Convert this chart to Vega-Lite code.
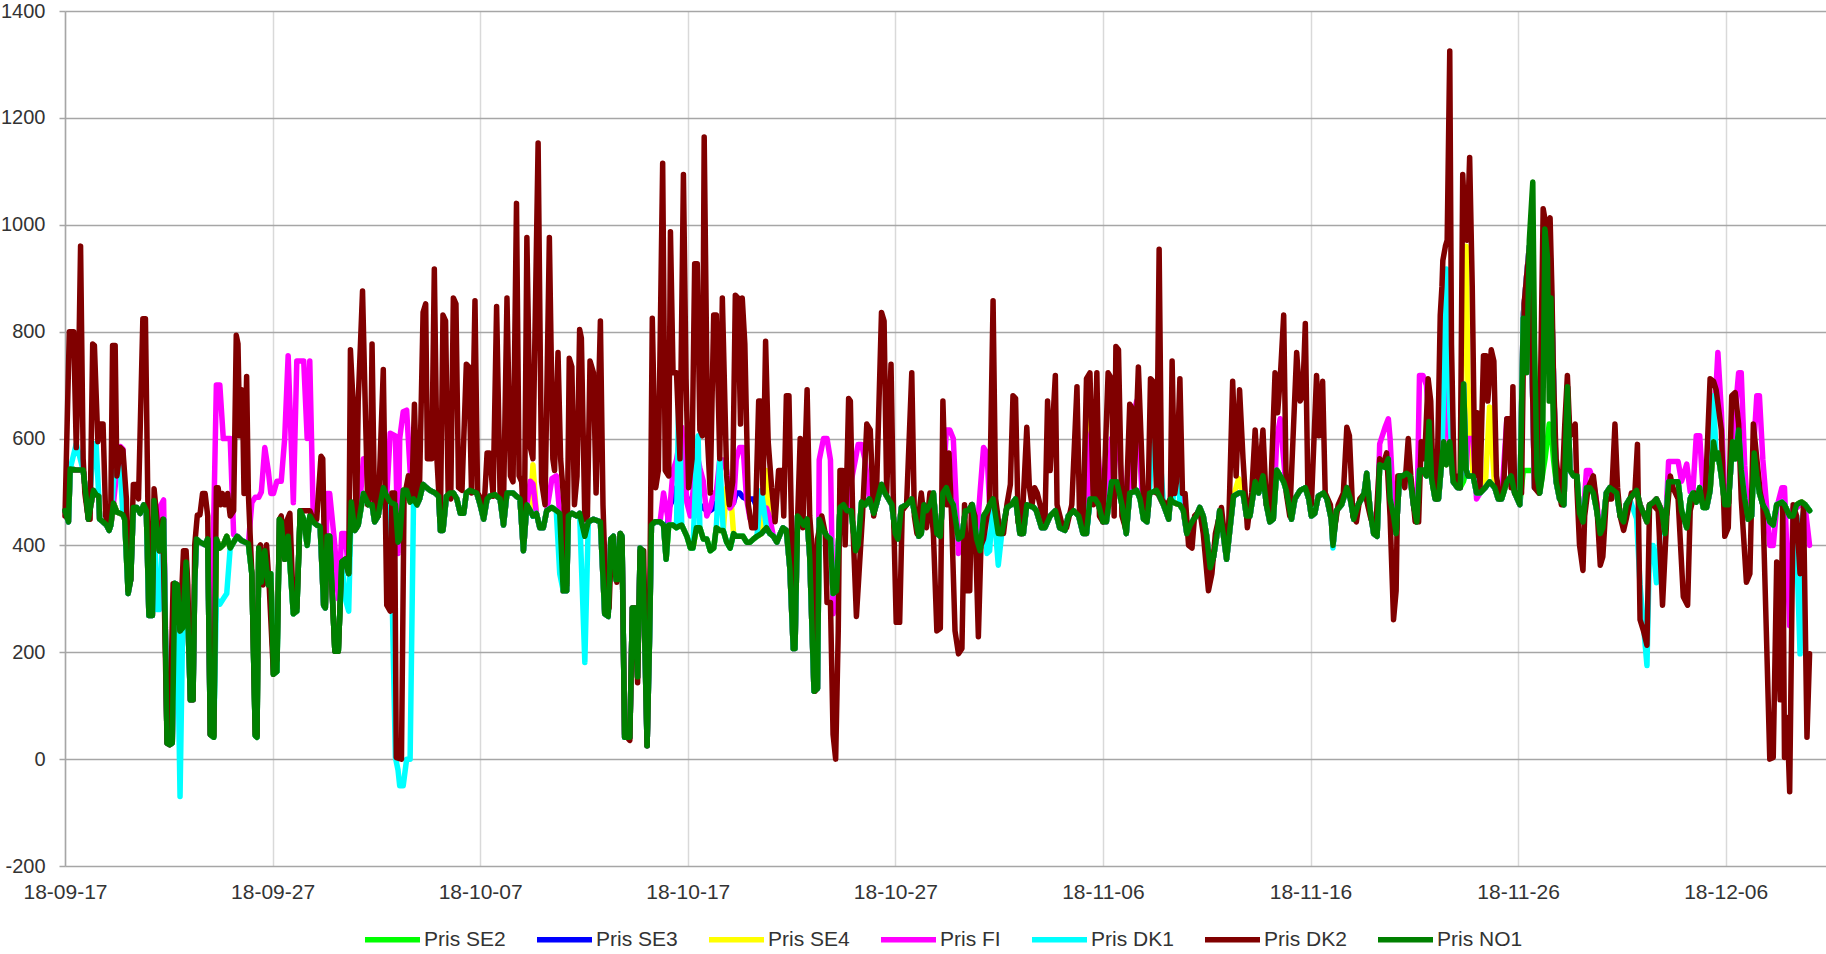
{
"$schema":"https://vega.github.io/schema/vega-lite/v6.json",
"width":1761,"height":855,
"autosize":{"type":"none"},
"padding":{"left":65,"top":11,"right":0,"bottom":88},
"background":"white",
"config":{"font":"Liberation Sans","view":{"stroke":null},"axis":{"labelColor":"#333333","labelFont":"Liberation Sans"},"line":{"strokeWidth":5.5,"strokeJoin":"round","strokeCap":"round"}},
"datasets":{
"nordic":[
{"h":0,"NO1":465,"SE2":465,"SE3":465,"SE4":465,"FI":465,"DK1":465},
{"h":4,"NO1":444,"SE2":444,"SE3":444,"SE4":444,"FI":444,"DK1":444},
{"h":6,"NO1":543,"SE2":543,"SE3":543,"SE4":543,"FI":543,"DK1":543},
{"h":13,"NO1":541,"SE2":541,"SE3":541,"SE4":541,"FI":541,"DK1":590},
{"h":21,"NO1":541,"SE2":541,"SE3":541,"SE4":541,"FI":541,"DK1":541},
{"h":24,"NO1":497,"SE2":497,"SE3":497,"SE4":497,"FI":497,"DK1":497},
{"h":27,"NO1":449,"SE2":449,"SE3":449,"SE4":449,"FI":449,"DK1":449},
{"h":33,"NO1":503,"SE2":503,"SE3":503,"SE4":503,"FI":503,"DK1":590},
{"h":36,"NO1":495,"SE2":495,"SE3":495,"SE4":495,"FI":495,"DK1":590},
{"h":39,"NO1":492,"SE2":492,"SE3":492,"SE4":492,"FI":492,"DK1":492},
{"h":40,"NO1":449,"SE2":449,"SE3":449,"SE4":449,"FI":449,"DK1":449},
{"h":44,"NO1":444,"SE2":444,"SE3":444,"SE4":444,"FI":444,"DK1":444},
{"h":48,"NO1":438,"SE2":438,"SE3":438,"SE4":438,"FI":438,"DK1":438},
{"h":51,"NO1":428,"SE2":428,"SE3":428,"SE4":428,"FI":428,"DK1":428},
{"h":53,"NO1":438,"SE2":438,"SE3":438,"SE4":438,"FI":438,"DK1":438},
{"h":56,"NO1":479,"SE2":479,"SE3":479,"SE4":479,"FI":479,"DK1":520},
{"h":60,"NO1":462,"SE2":462,"SE3":462,"SE4":462,"FI":540,"DK1":560},
{"h":64,"NO1":460,"SE2":460,"SE3":460,"SE4":460,"FI":585,"DK1":540},
{"h":67,"NO1":457,"SE2":457,"SE3":457,"SE4":457,"FI":580,"DK1":457},
{"h":69,"NO1":449,"SE2":449,"SE3":449,"SE4":449,"FI":470,"DK1":449},
{"h":73,"NO1":310,"SE2":310,"SE3":310,"SE4":310,"FI":310,"DK1":310},
{"h":76,"NO1":336,"SE2":336,"SE3":336,"SE4":336,"FI":336,"DK1":336},
{"h":79,"NO1":471,"SE2":471,"SE3":471,"SE4":471,"FI":471,"DK1":471},
{"h":83,"NO1":471,"SE2":471,"SE3":471,"SE4":471,"FI":471,"DK1":471},
{"h":87,"NO1":460,"SE2":460,"SE3":460,"SE4":460,"FI":460,"DK1":460},
{"h":91,"NO1":476,"SE2":476,"SE3":476,"SE4":476,"FI":476,"DK1":476},
{"h":94,"NO1":465,"SE2":465,"SE3":465,"SE4":465,"FI":465,"DK1":465},
{"h":97,"NO1":269,"SE2":269,"SE3":269,"SE4":269,"FI":269,"DK1":269},
{"h":101,"NO1":269,"SE2":269,"SE3":269,"SE4":269,"FI":269,"DK1":269},
{"h":103,"NO1":484,"SE2":484,"SE3":484,"SE4":484,"FI":484,"DK1":484},
{"h":106,"NO1":433,"SE2":433,"SE3":433,"SE4":433,"FI":433,"DK1":280},
{"h":109,"NO1":390,"SE2":390,"SE3":390,"SE4":390,"FI":470,"DK1":280},
{"h":114,"NO1":449,"SE2":449,"SE3":449,"SE4":449,"FI":485,"DK1":449},
{"h":118,"NO1":30,"SE2":30,"SE3":30,"SE4":30,"FI":30,"DK1":30},
{"h":121,"NO1":27,"SE2":27,"SE3":27,"SE4":27,"FI":27,"DK1":27},
{"h":124,"NO1":30,"SE2":30,"SE3":30,"SE4":30,"FI":30,"DK1":30},
{"h":127,"NO1":329,"SE2":329,"SE3":329,"SE4":329,"FI":329,"DK1":329},
{"h":130,"NO1":326,"SE2":326,"SE3":326,"SE4":326,"FI":326,"DK1":250},
{"h":133,"NO1":240,"SE2":240,"SE3":240,"SE4":240,"FI":240,"DK1":-70},
{"h":136,"NO1":245,"SE2":245,"SE3":245,"SE4":245,"FI":245,"DK1":245},
{"h":140,"NO1":369,"SE2":369,"SE3":369,"SE4":369,"FI":369,"DK1":369},
{"h":145,"NO1":111,"SE2":111,"SE3":111,"SE4":111,"FI":111,"DK1":111},
{"h":148,"NO1":111,"SE2":111,"SE3":111,"SE4":111,"FI":111,"DK1":111},
{"h":150,"NO1":331,"SE2":331,"SE3":331,"SE4":331,"FI":331,"DK1":331},
{"h":152,"NO1":412,"SE2":412,"SE3":412,"SE4":412,"FI":412,"DK1":412},
{"h":156,"NO1":406,"SE2":406,"SE3":406,"SE4":406,"FI":406,"DK1":406},
{"h":162,"NO1":401,"SE2":401,"SE3":401,"SE4":401,"FI":401,"DK1":401},
{"h":165,"NO1":412,"SE2":412,"SE3":412,"SE4":412,"FI":412,"DK1":412},
{"h":168,"NO1":46,"SE2":46,"SE3":46,"SE4":46,"FI":46,"DK1":46},
{"h":172,"NO1":41,"SE2":41,"SE3":41,"SE4":41,"FI":450,"DK1":41},
{"h":175,"NO1":412,"SE2":412,"SE3":412,"SE4":412,"FI":700,"DK1":300},
{"h":179,"NO1":395,"SE2":395,"SE3":395,"SE4":395,"FI":700,"DK1":290},
{"h":183,"NO1":401,"SE2":401,"SE3":401,"SE4":401,"FI":600,"DK1":300},
{"h":187,"NO1":417,"SE2":417,"SE3":417,"SE4":417,"FI":600,"DK1":310},
{"h":191,"NO1":395,"SE2":395,"SE3":395,"SE4":395,"FI":600,"DK1":395},
{"h":195,"NO1":406,"SE2":406,"SE3":406,"SE4":406,"FI":420,"DK1":406},
{"h":199,"NO1":417,"SE2":417,"SE3":417,"SE4":417,"FI":417,"DK1":417},
{"h":204,"NO1":409,"SE2":409,"SE3":409,"SE4":409,"FI":409,"DK1":409},
{"h":212,"NO1":403,"SE2":403,"SE3":403,"SE4":403,"FI":403,"DK1":403},
{"h":216,"NO1":347,"SE2":347,"SE3":347,"SE4":347,"FI":480,"DK1":347},
{"h":220,"NO1":44,"SE2":44,"SE3":44,"SE4":44,"FI":490,"DK1":44},
{"h":222,"NO1":41,"SE2":41,"SE3":41,"SE4":41,"FI":490,"DK1":41},
{"h":224,"NO1":395,"SE2":395,"SE3":395,"SE4":395,"FI":490,"DK1":395},
{"h":227,"NO1":331,"SE2":331,"SE3":331,"SE4":331,"FI":500,"DK1":331},
{"h":231,"NO1":390,"SE2":390,"SE3":390,"SE4":390,"FI":583,"DK1":390},
{"h":235,"NO1":326,"SE2":326,"SE3":326,"SE4":326,"FI":540,"DK1":326},
{"h":238,"NO1":347,"SE2":347,"SE3":347,"SE4":347,"FI":497,"DK1":347},
{"h":241,"NO1":159,"SE2":159,"SE3":159,"SE4":159,"FI":497,"DK1":159},
{"h":245,"NO1":164,"SE2":164,"SE3":164,"SE4":164,"FI":520,"DK1":164},
{"h":248,"NO1":449,"SE2":449,"SE3":449,"SE4":449,"FI":520,"DK1":449},
{"h":250,"NO1":444,"SE2":444,"SE3":444,"SE4":444,"FI":520,"DK1":444},
{"h":254,"NO1":374,"SE2":374,"SE3":374,"SE4":374,"FI":600,"DK1":374},
{"h":258,"NO1":417,"SE2":417,"SE3":417,"SE4":417,"FI":755,"DK1":417},
{"h":264,"NO1":272,"SE2":272,"SE3":272,"SE4":272,"FI":480,"DK1":272},
{"h":268,"NO1":277,"SE2":277,"SE3":277,"SE4":277,"FI":745,"DK1":277},
{"h":272,"NO1":465,"SE2":465,"SE3":465,"SE4":465,"FI":745,"DK1":465},
{"h":276,"NO1":449,"SE2":449,"SE3":449,"SE4":449,"FI":745,"DK1":449},
{"h":280,"NO1":400,"SE2":400,"SE3":400,"SE4":400,"FI":600,"DK1":400},
{"h":283,"NO1":455,"SE2":455,"SE3":455,"SE4":455,"FI":745,"DK1":455},
{"h":287,"NO1":444,"SE2":444,"SE3":444,"SE4":444,"FI":455,"DK1":444},
{"h":291,"NO1":438,"SE2":438,"SE3":438,"SE4":438,"FI":438,"DK1":438},
{"h":295,"NO1":435,"SE2":435,"SE3":435,"SE4":435,"FI":435,"DK1":435},
{"h":299,"NO1":288,"SE2":288,"SE3":288,"SE4":288,"FI":288,"DK1":288},
{"h":301,"NO1":283,"SE2":283,"SE3":283,"SE4":283,"FI":283,"DK1":283},
{"h":303,"NO1":417,"SE2":417,"SE3":417,"SE4":417,"FI":497,"DK1":417},
{"h":306,"NO1":417,"SE2":417,"SE3":417,"SE4":417,"FI":497,"DK1":417},
{"h":312,"NO1":202,"SE2":202,"SE3":202,"SE4":202,"FI":400,"DK1":202},
{"h":316,"NO1":202,"SE2":202,"SE3":202,"SE4":202,"FI":300,"DK1":202},
{"h":320,"NO1":369,"SE2":369,"SE3":369,"SE4":369,"FI":422,"DK1":369},
{"h":324,"NO1":374,"SE2":374,"SE3":374,"SE4":374,"FI":422,"DK1":300},
{"h":328,"NO1":347,"SE2":347,"SE3":347,"SE4":347,"FI":347,"DK1":277},
{"h":331,"NO1":481,"SE2":481,"SE3":481,"SE4":481,"FI":481,"DK1":481},
{"h":335,"NO1":428,"SE2":428,"SE3":428,"SE4":428,"FI":428,"DK1":428},
{"h":339,"NO1":438,"SE2":438,"SE3":438,"SE4":438,"FI":438,"DK1":438},
{"h":345,"NO1":497,"SE2":497,"SE3":497,"SE4":497,"FI":562,"DK1":497},
{"h":351,"NO1":476,"SE2":476,"SE3":476,"SE4":476,"FI":530,"DK1":476},
{"h":355,"NO1":476,"SE2":476,"SE3":476,"SE4":476,"FI":476,"DK1":476},
{"h":358,"NO1":444,"SE2":444,"SE3":444,"SE4":444,"FI":444,"DK1":444},
{"h":362,"NO1":455,"SE2":455,"SE3":455,"SE4":455,"FI":455,"DK1":455},
{"h":368,"NO1":508,"SE2":508,"SE3":508,"SE4":508,"FI":508,"DK1":508},
{"h":372,"NO1":492,"SE2":492,"SE3":492,"SE4":492,"FI":492,"DK1":492},
{"h":376,"NO1":481,"SE2":481,"SE3":481,"SE4":481,"FI":610,"DK1":481},
{"h":382,"NO1":476,"SE2":476,"SE3":476,"SE4":476,"FI":605,"DK1":3},
{"h":385,"NO1":406,"SE2":406,"SE3":406,"SE4":406,"FI":385,"DK1":-20},
{"h":387,"NO1":412,"SE2":412,"SE3":412,"SE4":412,"FI":600,"DK1":-50},
{"h":391,"NO1":503,"SE2":503,"SE3":503,"SE4":503,"FI":650,"DK1":-50},
{"h":395,"NO1":503,"SE2":503,"SE3":503,"SE4":503,"FI":653,"DK1":0},
{"h":399,"NO1":481,"SE2":481,"SE3":481,"SE4":481,"FI":540,"DK1":0},
{"h":403,"NO1":487,"SE2":487,"SE3":487,"SE4":487,"FI":487,"DK1":487},
{"h":407,"NO1":476,"SE2":476,"SE3":476,"SE4":476,"FI":476,"DK1":476},
{"h":410,"NO1":487,"SE2":487,"SE3":487,"SE4":487,"FI":487,"DK1":487},
{"h":414,"NO1":514,"SE2":514,"SE3":514,"SE4":514,"FI":514,"DK1":514},
{"h":418,"NO1":508,"SE2":508,"SE3":508,"SE4":508,"FI":508,"DK1":508},
{"h":422,"NO1":503,"SE2":503,"SE3":503,"SE4":503,"FI":503,"DK1":503},
{"h":428,"NO1":498,"SE2":498,"SE3":498,"SE4":498,"FI":498,"DK1":498},
{"h":432,"NO1":492,"SE2":492,"SE3":492,"SE4":492,"FI":492,"DK1":492},
{"h":434,"NO1":428,"SE2":428,"SE3":428,"SE4":428,"FI":428,"DK1":428},
{"h":437,"NO1":428,"SE2":428,"SE3":428,"SE4":428,"FI":428,"DK1":428},
{"h":441,"NO1":492,"SE2":492,"SE3":492,"SE4":492,"FI":492,"DK1":492},
{"h":445,"NO1":498,"SE2":498,"SE3":498,"SE4":498,"FI":498,"DK1":498},
{"h":449,"NO1":498,"SE2":498,"SE3":498,"SE4":498,"FI":498,"DK1":498},
{"h":453,"NO1":487,"SE2":487,"SE3":487,"SE4":487,"FI":487,"DK1":487},
{"h":457,"NO1":460,"SE2":460,"SE3":460,"SE4":460,"FI":460,"DK1":460},
{"h":461,"NO1":460,"SE2":460,"SE3":460,"SE4":460,"FI":460,"DK1":460},
{"h":464,"NO1":498,"SE2":498,"SE3":498,"SE4":498,"FI":498,"DK1":498},
{"h":468,"NO1":503,"SE2":503,"SE3":503,"SE4":503,"FI":503,"DK1":503},
{"h":476,"NO1":498,"SE2":498,"SE3":498,"SE4":498,"FI":498,"DK1":498},
{"h":480,"NO1":476,"SE2":476,"SE3":476,"SE4":476,"FI":476,"DK1":476},
{"h":484,"NO1":449,"SE2":449,"SE3":449,"SE4":449,"FI":449,"DK1":449},
{"h":488,"NO1":487,"SE2":487,"SE3":487,"SE4":487,"FI":487,"DK1":487},
{"h":491,"NO1":492,"SE2":492,"SE3":492,"SE4":492,"FI":492,"DK1":492},
{"h":497,"NO1":495,"SE2":495,"SE3":495,"SE4":495,"FI":495,"DK1":495},
{"h":503,"NO1":487,"SE2":487,"SE3":487,"SE4":487,"FI":487,"DK1":487},
{"h":507,"NO1":438,"SE2":438,"SE3":438,"SE4":438,"FI":438,"DK1":438},
{"h":511,"NO1":498,"SE2":498,"SE3":498,"SE4":498,"FI":498,"DK1":498},
{"h":515,"NO1":498,"SE2":498,"SE3":498,"SE4":498,"FI":498,"DK1":498},
{"h":518,"NO1":498,"SE2":498,"SE3":498,"SE4":498,"FI":498,"DK1":498},
{"h":522,"NO1":492,"SE2":492,"SE3":492,"SE4":492,"FI":492,"DK1":492},
{"h":526,"NO1":487,"SE2":487,"SE3":487,"SE4":487,"FI":487,"DK1":487},
{"h":530,"NO1":390,"SE2":390,"SE3":390,"SE4":390,"FI":390,"DK1":390},
{"h":534,"NO1":476,"SE2":476,"SE3":476,"SE4":476,"FI":476,"DK1":476},
{"h":538,"NO1":465,"SE2":465,"SE3":465,"SE4":465,"FI":520,"DK1":465},
{"h":541,"NO1":455,"SE2":455,"SE3":455,"SE4":551,"FI":515,"DK1":455},
{"h":545,"NO1":460,"SE2":460,"SE3":460,"SE4":460,"FI":460,"DK1":460},
{"h":549,"NO1":433,"SE2":433,"SE3":433,"SE4":433,"FI":433,"DK1":433},
{"h":553,"NO1":433,"SE2":433,"SE3":433,"SE4":433,"FI":433,"DK1":433},
{"h":557,"NO1":465,"SE2":465,"SE3":465,"SE4":465,"FI":465,"DK1":465},
{"h":563,"NO1":471,"SE2":471,"SE3":471,"SE4":471,"FI":525,"DK1":471},
{"h":568,"NO1":465,"SE2":465,"SE3":465,"SE4":465,"FI":530,"DK1":465},
{"h":572,"NO1":460,"SE2":460,"SE3":460,"SE4":460,"FI":460,"DK1":347},
{"h":576,"NO1":315,"SE2":315,"SE3":315,"SE4":315,"FI":315,"DK1":315},
{"h":580,"NO1":315,"SE2":315,"SE3":315,"SE4":315,"FI":315,"DK1":315},
{"h":582,"NO1":455,"SE2":455,"SE3":455,"SE4":455,"FI":455,"DK1":455},
{"h":586,"NO1":460,"SE2":460,"SE3":460,"SE4":460,"FI":460,"DK1":460},
{"h":592,"NO1":455,"SE2":455,"SE3":455,"SE4":455,"FI":455,"DK1":455},
{"h":595,"NO1":460,"SE2":460,"SE3":460,"SE4":460,"FI":460,"DK1":460},
{"h":601,"NO1":417,"SE2":417,"SE3":417,"SE4":417,"FI":417,"DK1":181},
{"h":605,"NO1":444,"SE2":444,"SE3":444,"SE4":444,"FI":444,"DK1":444},
{"h":611,"NO1":449,"SE2":449,"SE3":449,"SE4":449,"FI":449,"DK1":449},
{"h":619,"NO1":444,"SE2":444,"SE3":444,"SE4":444,"FI":444,"DK1":444},
{"h":624,"NO1":272,"SE2":272,"SE3":272,"SE4":272,"FI":272,"DK1":272},
{"h":628,"NO1":267,"SE2":267,"SE3":267,"SE4":267,"FI":267,"DK1":267},
{"h":631,"NO1":412,"SE2":412,"SE3":412,"SE4":412,"FI":412,"DK1":412},
{"h":634,"NO1":417,"SE2":417,"SE3":417,"SE4":417,"FI":417,"DK1":417},
{"h":637,"NO1":336,"SE2":336,"SE3":336,"SE4":336,"FI":336,"DK1":336},
{"h":639,"NO1":336,"SE2":336,"SE3":336,"SE4":336,"FI":336,"DK1":336},
{"h":642,"NO1":422,"SE2":422,"SE3":422,"SE4":422,"FI":422,"DK1":422},
{"h":644,"NO1":417,"SE2":417,"SE3":417,"SE4":417,"FI":417,"DK1":417},
{"h":647,"NO1":41,"SE2":41,"SE3":41,"SE4":41,"FI":41,"DK1":41},
{"h":653,"NO1":41,"SE2":41,"SE3":41,"SE4":41,"FI":41,"DK1":41},
{"h":656,"NO1":283,"SE2":283,"SE3":283,"SE4":283,"FI":283,"DK1":283},
{"h":659,"NO1":283,"SE2":283,"SE3":283,"SE4":283,"FI":283,"DK1":283},
{"h":662,"NO1":154,"SE2":154,"SE3":154,"SE4":154,"FI":154,"DK1":154},
{"h":665,"NO1":395,"SE2":395,"SE3":395,"SE4":395,"FI":395,"DK1":395},
{"h":668,"NO1":390,"SE2":390,"SE3":390,"SE4":390,"FI":390,"DK1":390},
{"h":673,"NO1":25,"SE2":25,"SE3":25,"SE4":25,"FI":25,"DK1":25},
{"h":676,"NO1":240,"SE2":240,"SE3":240,"SE4":240,"FI":240,"DK1":240},
{"h":678,"NO1":438,"SE2":438,"SE3":438,"SE4":438,"FI":438,"DK1":438},
{"h":682,"NO1":444,"SE2":444,"SE3":444,"SE4":444,"FI":444,"DK1":444},
{"h":688,"NO1":444,"SE2":444,"SE3":444,"SE4":444,"FI":444,"DK1":444},
{"h":692,"NO1":438,"SE2":438,"SE3":438,"SE4":438,"FI":498,"DK1":438},
{"h":695,"NO1":374,"SE2":374,"SE3":374,"SE4":374,"FI":470,"DK1":374},
{"h":698,"NO1":438,"SE2":438,"SE3":470,"SE4":438,"FI":444,"DK1":438},
{"h":703,"NO1":438,"SE2":438,"SE3":487,"SE4":438,"FI":540,"DK1":438},
{"h":707,"NO1":433,"SE2":433,"SE3":508,"SE4":433,"FI":560,"DK1":433},
{"h":710,"NO1":436,"SE2":436,"SE3":505,"SE4":436,"FI":590,"DK1":718},
{"h":713,"NO1":438,"SE2":438,"SE3":503,"SE4":438,"FI":621,"DK1":438},
{"h":719,"NO1":417,"SE2":417,"SE3":490,"SE4":417,"FI":480,"DK1":417},
{"h":723,"NO1":395,"SE2":395,"SE3":470,"SE4":395,"FI":455,"DK1":395},
{"h":726,"NO1":395,"SE2":395,"SE3":465,"SE4":395,"FI":500,"DK1":395},
{"h":730,"NO1":433,"SE2":433,"SE3":470,"SE4":433,"FI":573,"DK1":560},
{"h":732,"NO1":433,"SE2":433,"SE3":473,"SE4":433,"FI":560,"DK1":605},
{"h":734,"NO1":433,"SE2":433,"SE3":476,"SE4":433,"FI":545,"DK1":433},
{"h":738,"NO1":412,"SE2":412,"SE3":470,"SE4":412,"FI":520,"DK1":412},
{"h":742,"NO1":412,"SE2":412,"SE3":465,"SE4":412,"FI":455,"DK1":412},
{"h":746,"NO1":390,"SE2":390,"SE3":465,"SE4":390,"FI":470,"DK1":390},
{"h":750,"NO1":395,"SE2":395,"SE3":470,"SE4":395,"FI":498,"DK1":395},
{"h":753,"NO1":433,"SE2":433,"SE3":480,"SE4":433,"FI":500,"DK1":433},
{"h":757,"NO1":428,"SE2":428,"SE3":487,"SE4":428,"FI":560,"DK1":562},
{"h":761,"NO1":428,"SE2":428,"SE3":480,"SE4":428,"FI":560,"DK1":428},
{"h":765,"NO1":406,"SE2":406,"SE3":476,"SE4":508,"FI":540,"DK1":406},
{"h":769,"NO1":395,"SE2":395,"SE3":470,"SE4":508,"FI":470,"DK1":395},
{"h":773,"NO1":422,"SE2":422,"SE3":480,"SE4":422,"FI":480,"DK1":422},
{"h":776,"NO1":417,"SE2":417,"SE3":498,"SE4":417,"FI":560,"DK1":417},
{"h":780,"NO1":417,"SE2":417,"SE3":498,"SE4":417,"FI":583,"DK1":417},
{"h":784,"NO1":417,"SE2":417,"SE3":490,"SE4":417,"FI":583,"DK1":417},
{"h":788,"NO1":406,"SE2":406,"SE3":487,"SE4":406,"FI":487,"DK1":406},
{"h":792,"NO1":406,"SE2":406,"SE3":487,"SE4":406,"FI":450,"DK1":406},
{"h":796,"NO1":412,"SE2":412,"SE3":487,"SE4":412,"FI":450,"DK1":412},
{"h":800,"NO1":417,"SE2":417,"SE3":470,"SE4":417,"FI":455,"DK1":417},
{"h":805,"NO1":422,"SE2":422,"SE3":422,"SE4":422,"FI":470,"DK1":503},
{"h":811,"NO1":433,"SE2":433,"SE3":433,"SE4":540,"FI":470,"DK1":433},
{"h":815,"NO1":422,"SE2":422,"SE3":422,"SE4":422,"FI":450,"DK1":422},
{"h":819,"NO1":417,"SE2":417,"SE3":417,"SE4":417,"FI":417,"DK1":417},
{"h":823,"NO1":406,"SE2":406,"SE3":406,"SE4":406,"FI":406,"DK1":406},
{"h":827,"NO1":422,"SE2":422,"SE3":422,"SE4":422,"FI":422,"DK1":422},
{"h":830,"NO1":433,"SE2":433,"SE3":433,"SE4":433,"FI":433,"DK1":433},
{"h":834,"NO1":428,"SE2":428,"SE3":428,"SE4":428,"FI":428,"DK1":428},
{"h":838,"NO1":358,"SE2":358,"SE3":358,"SE4":358,"FI":358,"DK1":358},
{"h":842,"NO1":207,"SE2":207,"SE3":207,"SE4":207,"FI":207,"DK1":207},
{"h":844,"NO1":207,"SE2":207,"SE3":207,"SE4":207,"FI":207,"DK1":207},
{"h":847,"NO1":455,"SE2":455,"SE3":455,"SE4":455,"FI":455,"DK1":455},
{"h":850,"NO1":449,"SE2":449,"SE3":449,"SE4":449,"FI":449,"DK1":449},
{"h":854,"NO1":438,"SE2":438,"SE3":438,"SE4":438,"FI":438,"DK1":438},
{"h":858,"NO1":449,"SE2":449,"SE3":449,"SE4":449,"FI":449,"DK1":449},
{"h":861,"NO1":379,"SE2":379,"SE3":379,"SE4":379,"FI":379,"DK1":379},
{"h":866,"NO1":127,"SE2":127,"SE3":127,"SE4":127,"FI":127,"DK1":127},
{"h":870,"NO1":132,"SE2":132,"SE3":132,"SE4":132,"FI":132,"DK1":132},
{"h":872,"NO1":449,"SE2":449,"SE3":449,"SE4":449,"FI":560,"DK1":449},
{"h":877,"NO1":428,"SE2":428,"SE3":428,"SE4":428,"FI":600,"DK1":428},
{"h":881,"NO1":417,"SE2":417,"SE3":417,"SE4":417,"FI":600,"DK1":417},
{"h":885,"NO1":412,"SE2":412,"SE3":412,"SE4":412,"FI":560,"DK1":412},
{"h":888,"NO1":310,"SE2":310,"SE3":310,"SE4":310,"FI":272,"DK1":310},
{"h":892,"NO1":315,"SE2":315,"SE3":315,"SE4":315,"FI":315,"DK1":315},
{"h":896,"NO1":471,"SE2":471,"SE3":471,"SE4":471,"FI":471,"DK1":471},
{"h":900,"NO1":476,"SE2":476,"SE3":476,"SE4":476,"FI":476,"DK1":476},
{"h":904,"NO1":465,"SE2":465,"SE3":465,"SE4":465,"FI":465,"DK1":465},
{"h":909,"NO1":465,"SE2":465,"SE3":465,"SE4":465,"FI":520,"DK1":465},
{"h":914,"NO1":390,"SE2":390,"SE3":390,"SE4":390,"FI":562,"DK1":390},
{"h":917,"NO1":401,"SE2":401,"SE3":401,"SE4":401,"FI":589,"DK1":401},
{"h":921,"NO1":481,"SE2":481,"SE3":481,"SE4":481,"FI":589,"DK1":481},
{"h":925,"NO1":476,"SE2":476,"SE3":476,"SE4":476,"FI":560,"DK1":476},
{"h":930,"NO1":487,"SE2":487,"SE3":487,"SE4":487,"FI":487,"DK1":487},
{"h":935,"NO1":460,"SE2":460,"SE3":460,"SE4":460,"FI":460,"DK1":460},
{"h":938,"NO1":476,"SE2":476,"SE3":476,"SE4":476,"FI":476,"DK1":476},
{"h":944,"NO1":514,"SE2":514,"SE3":514,"SE4":514,"FI":514,"DK1":514},
{"h":948,"NO1":498,"SE2":498,"SE3":498,"SE4":498,"FI":498,"DK1":498},
{"h":952,"NO1":487,"SE2":487,"SE3":487,"SE4":487,"FI":487,"DK1":487},
{"h":956,"NO1":476,"SE2":476,"SE3":476,"SE4":476,"FI":476,"DK1":476},
{"h":960,"NO1":422,"SE2":422,"SE3":422,"SE4":422,"FI":422,"DK1":422},
{"h":963,"NO1":412,"SE2":412,"SE3":412,"SE4":412,"FI":412,"DK1":412},
{"h":967,"NO1":471,"SE2":471,"SE3":471,"SE4":471,"FI":471,"DK1":471},
{"h":973,"NO1":476,"SE2":476,"SE3":476,"SE4":476,"FI":476,"DK1":476},
{"h":979,"NO1":487,"SE2":487,"SE3":487,"SE4":487,"FI":487,"DK1":487},
{"h":983,"NO1":455,"SE2":455,"SE3":455,"SE4":455,"FI":455,"DK1":455},
{"h":987,"NO1":417,"SE2":417,"SE3":417,"SE4":417,"FI":417,"DK1":417},
{"h":990,"NO1":422,"SE2":422,"SE3":422,"SE4":422,"FI":422,"DK1":422},
{"h":993,"NO1":476,"SE2":476,"SE3":476,"SE4":476,"FI":476,"DK1":476},
{"h":996,"NO1":465,"SE2":465,"SE3":465,"SE4":465,"FI":465,"DK1":465},
{"h":1000,"NO1":476,"SE2":476,"SE3":476,"SE4":476,"FI":476,"DK1":476},
{"h":1004,"NO1":498,"SE2":498,"SE3":498,"SE4":498,"FI":498,"DK1":498},
{"h":1008,"NO1":422,"SE2":422,"SE3":422,"SE4":422,"FI":422,"DK1":422},
{"h":1012,"NO1":417,"SE2":417,"SE3":417,"SE4":417,"FI":417,"DK1":417},
{"h":1015,"NO1":498,"SE2":498,"SE3":498,"SE4":498,"FI":498,"DK1":498},
{"h":1019,"NO1":508,"SE2":508,"SE3":508,"SE4":508,"FI":616,"DK1":508},
{"h":1023,"NO1":487,"SE2":487,"SE3":487,"SE4":487,"FI":616,"DK1":487},
{"h":1027,"NO1":476,"SE2":476,"SE3":476,"SE4":476,"FI":600,"DK1":476},
{"h":1033,"NO1":412,"SE2":412,"SE3":412,"SE4":412,"FI":385,"DK1":412},
{"h":1037,"NO1":417,"SE2":417,"SE3":417,"SE4":417,"FI":417,"DK1":417},
{"h":1041,"NO1":465,"SE2":465,"SE3":465,"SE4":465,"FI":465,"DK1":465},
{"h":1044,"NO1":465,"SE2":465,"SE3":465,"SE4":465,"FI":465,"DK1":465},
{"h":1049,"NO1":476,"SE2":476,"SE3":476,"SE4":476,"FI":476,"DK1":476},
{"h":1054,"NO1":412,"SE2":412,"SE3":412,"SE4":412,"FI":412,"DK1":412},
{"h":1058,"NO1":390,"SE2":390,"SE3":390,"SE4":390,"FI":500,"DK1":390},
{"h":1062,"NO1":455,"SE2":455,"SE3":455,"SE4":455,"FI":583,"DK1":455},
{"h":1066,"NO1":465,"SE2":465,"SE3":465,"SE4":465,"FI":573,"DK1":385},
{"h":1069,"NO1":476,"SE2":476,"SE3":476,"SE4":476,"FI":476,"DK1":390},
{"h":1073,"NO1":487,"SE2":487,"SE3":487,"SE4":487,"FI":487,"DK1":487},
{"h":1079,"NO1":422,"SE2":422,"SE3":422,"SE4":422,"FI":422,"DK1":363},
{"h":1083,"NO1":422,"SE2":422,"SE3":422,"SE4":422,"FI":422,"DK1":422},
{"h":1089,"NO1":471,"SE2":471,"SE3":471,"SE4":471,"FI":471,"DK1":471},
{"h":1094,"NO1":476,"SE2":476,"SE3":476,"SE4":476,"FI":476,"DK1":476},
{"h":1099,"NO1":487,"SE2":487,"SE3":487,"SE4":487,"FI":487,"DK1":487},
{"h":1104,"NO1":422,"SE2":422,"SE3":422,"SE4":422,"FI":422,"DK1":422},
{"h":1108,"NO1":422,"SE2":422,"SE3":422,"SE4":422,"FI":422,"DK1":422},
{"h":1112,"NO1":476,"SE2":476,"SE3":476,"SE4":476,"FI":476,"DK1":476},
{"h":1120,"NO1":471,"SE2":471,"SE3":471,"SE4":471,"FI":471,"DK1":471},
{"h":1123,"NO1":465,"SE2":465,"SE3":465,"SE4":465,"FI":465,"DK1":465},
{"h":1129,"NO1":433,"SE2":433,"SE3":433,"SE4":433,"FI":433,"DK1":433},
{"h":1133,"NO1":433,"SE2":433,"SE3":433,"SE4":433,"FI":433,"DK1":433},
{"h":1139,"NO1":455,"SE2":455,"SE3":455,"SE4":455,"FI":455,"DK1":455},
{"h":1145,"NO1":465,"SE2":465,"SE3":465,"SE4":465,"FI":465,"DK1":465},
{"h":1150,"NO1":433,"SE2":433,"SE3":433,"SE4":433,"FI":433,"DK1":433},
{"h":1156,"NO1":428,"SE2":428,"SE3":428,"SE4":428,"FI":428,"DK1":428},
{"h":1160,"NO1":455,"SE2":455,"SE3":455,"SE4":455,"FI":455,"DK1":455},
{"h":1166,"NO1":465,"SE2":465,"SE3":465,"SE4":465,"FI":465,"DK1":465},
{"h":1172,"NO1":455,"SE2":455,"SE3":455,"SE4":455,"FI":455,"DK1":455},
{"h":1177,"NO1":422,"SE2":422,"SE3":422,"SE4":422,"FI":422,"DK1":422},
{"h":1181,"NO1":422,"SE2":422,"SE3":422,"SE4":422,"FI":422,"DK1":422},
{"h":1185,"NO1":487,"SE2":487,"SE3":487,"SE4":660,"FI":600,"DK1":487},
{"h":1191,"NO1":487,"SE2":487,"SE3":487,"SE4":487,"FI":650,"DK1":487},
{"h":1195,"NO1":476,"SE2":476,"SE3":476,"SE4":476,"FI":560,"DK1":476},
{"h":1200,"NO1":444,"SE2":444,"SE3":444,"SE4":444,"FI":444,"DK1":444},
{"h":1204,"NO1":444,"SE2":444,"SE3":444,"SE4":444,"FI":444,"DK1":444},
{"h":1210,"NO1":519,"SE2":519,"SE3":519,"SE4":519,"FI":600,"DK1":519},
{"h":1216,"NO1":519,"SE2":519,"SE3":519,"SE4":519,"FI":616,"DK1":519},
{"h":1222,"NO1":476,"SE2":476,"SE3":476,"SE4":476,"FI":520,"DK1":476},
{"h":1227,"NO1":422,"SE2":422,"SE3":422,"SE4":422,"FI":422,"DK1":422},
{"h":1231,"NO1":498,"SE2":498,"SE3":498,"SE4":498,"FI":498,"DK1":498},
{"h":1235,"NO1":500,"SE2":500,"SE3":500,"SE4":500,"FI":640,"DK1":500},
{"h":1239,"NO1":503,"SE2":503,"SE3":503,"SE4":503,"FI":670,"DK1":503},
{"h":1243,"NO1":487,"SE2":487,"SE3":487,"SE4":487,"FI":560,"DK1":487},
{"h":1247,"NO1":449,"SE2":449,"SE3":449,"SE4":449,"FI":449,"DK1":449},
{"h":1251,"NO1":444,"SE2":444,"SE3":444,"SE4":444,"FI":444,"DK1":444},
{"h":1254,"NO1":498,"SE2":498,"SE3":498,"SE4":498,"FI":498,"DK1":498},
{"h":1258,"NO1":500,"SE2":500,"SE3":500,"SE4":500,"FI":500,"DK1":664},
{"h":1262,"NO1":503,"SE2":503,"SE3":503,"SE4":503,"FI":503,"DK1":664},
{"h":1270,"NO1":476,"SE2":476,"SE3":476,"SE4":476,"FI":476,"DK1":476},
{"h":1276,"NO1":449,"SE2":449,"SE3":449,"SE4":449,"FI":449,"DK1":449},
{"h":1278,"NO1":487,"SE2":487,"SE3":487,"SE4":487,"FI":487,"DK1":487},
{"h":1281,"NO1":481,"SE2":481,"SE3":481,"SE4":481,"FI":540,"DK1":481},
{"h":1285,"NO1":478,"SE2":478,"SE3":478,"SE4":478,"FI":540,"DK1":616},
{"h":1289,"NO1":476,"SE2":476,"SE3":476,"SE4":476,"FI":530,"DK1":476},
{"h":1293,"NO1":465,"SE2":465,"SE3":465,"SE4":465,"FI":465,"DK1":465},
{"h":1297,"NO1":422,"SE2":422,"SE3":422,"SE4":422,"FI":422,"DK1":422},
{"h":1301,"NO1":438,"SE2":438,"SE3":438,"SE4":438,"FI":438,"DK1":438},
{"h":1305,"NO1":449,"SE2":449,"SE3":449,"SE4":449,"FI":449,"DK1":449},
{"h":1308,"NO1":455,"SE2":455,"SE3":455,"SE4":455,"FI":455,"DK1":455},
{"h":1312,"NO1":471,"SE2":471,"SE3":471,"SE4":471,"FI":471,"DK1":471},
{"h":1316,"NO1":455,"SE2":455,"SE3":455,"SE4":455,"FI":455,"DK1":455},
{"h":1320,"NO1":417,"SE2":417,"SE3":417,"SE4":417,"FI":417,"DK1":417},
{"h":1324,"NO1":358,"SE2":358,"SE3":358,"SE4":358,"FI":358,"DK1":358},
{"h":1328,"NO1":379,"SE2":379,"SE3":379,"SE4":379,"FI":379,"DK1":379},
{"h":1332,"NO1":422,"SE2":422,"SE3":422,"SE4":422,"FI":422,"DK1":422},
{"h":1335,"NO1":465,"SE2":465,"SE3":465,"SE4":465,"FI":465,"DK1":465},
{"h":1339,"NO1":422,"SE2":422,"SE3":422,"SE4":422,"FI":422,"DK1":422},
{"h":1343,"NO1":374,"SE2":374,"SE3":374,"SE4":374,"FI":374,"DK1":374},
{"h":1347,"NO1":433,"SE2":433,"SE3":433,"SE4":433,"FI":433,"DK1":433},
{"h":1351,"NO1":492,"SE2":492,"SE3":492,"SE4":492,"FI":492,"DK1":492},
{"h":1357,"NO1":498,"SE2":498,"SE3":498,"SE4":525,"FI":498,"DK1":498},
{"h":1362,"NO1":498,"SE2":498,"SE3":498,"SE4":498,"FI":498,"DK1":498},
{"h":1366,"NO1":455,"SE2":455,"SE3":455,"SE4":455,"FI":455,"DK1":455},
{"h":1370,"NO1":455,"SE2":455,"SE3":455,"SE4":455,"FI":455,"DK1":455},
{"h":1376,"NO1":519,"SE2":519,"SE3":519,"SE4":519,"FI":519,"DK1":519},
{"h":1380,"NO1":498,"SE2":498,"SE3":498,"SE4":498,"FI":498,"DK1":498},
{"h":1385,"NO1":530,"SE2":530,"SE3":530,"SE4":530,"FI":530,"DK1":530},
{"h":1389,"NO1":476,"SE2":476,"SE3":476,"SE4":476,"FI":476,"DK1":476},
{"h":1393,"NO1":444,"SE2":444,"SE3":444,"SE4":444,"FI":444,"DK1":444},
{"h":1397,"NO1":449,"SE2":449,"SE3":449,"SE4":449,"FI":449,"DK1":449},
{"h":1401,"NO1":541,"SE2":541,"SE3":541,"SE4":541,"FI":600,"DK1":541},
{"h":1405,"NO1":530,"SE2":530,"SE3":530,"SE4":530,"FI":637,"DK1":530},
{"h":1409,"NO1":519,"SE2":519,"SE3":519,"SE4":519,"FI":560,"DK1":519},
{"h":1412,"NO1":503,"SE2":503,"SE3":503,"SE4":503,"FI":503,"DK1":503},
{"h":1418,"NO1":449,"SE2":449,"SE3":449,"SE4":449,"FI":449,"DK1":449},
{"h":1422,"NO1":487,"SE2":487,"SE3":487,"SE4":487,"FI":487,"DK1":487},
{"h":1428,"NO1":503,"SE2":503,"SE3":503,"SE4":503,"FI":503,"DK1":503},
{"h":1434,"NO1":508,"SE2":508,"SE3":508,"SE4":508,"FI":508,"DK1":508},
{"h":1438,"NO1":487,"SE2":487,"SE3":487,"SE4":487,"FI":487,"DK1":487},
{"h":1441,"NO1":455,"SE2":455,"SE3":455,"SE4":455,"FI":455,"DK1":455},
{"h":1445,"NO1":460,"SE2":460,"SE3":460,"SE4":460,"FI":460,"DK1":460},
{"h":1449,"NO1":492,"SE2":492,"SE3":492,"SE4":492,"FI":492,"DK1":492},
{"h":1455,"NO1":498,"SE2":498,"SE3":498,"SE4":498,"FI":498,"DK1":498},
{"h":1459,"NO1":487,"SE2":487,"SE3":487,"SE4":487,"FI":487,"DK1":487},
{"h":1464,"NO1":449,"SE2":449,"SE3":449,"SE4":449,"FI":449,"DK1":449},
{"h":1466,"NO1":400,"SE2":400,"SE3":400,"SE4":400,"FI":400,"DK1":395},
{"h":1470,"NO1":465,"SE2":465,"SE3":465,"SE4":465,"FI":465,"DK1":465},
{"h":1476,"NO1":476,"SE2":476,"SE3":476,"SE4":476,"FI":476,"DK1":476},
{"h":1482,"NO1":508,"SE2":508,"SE3":508,"SE4":508,"FI":508,"DK1":508},
{"h":1486,"NO1":487,"SE2":487,"SE3":487,"SE4":487,"FI":487,"DK1":487},
{"h":1490,"NO1":449,"SE2":449,"SE3":449,"SE4":449,"FI":449,"DK1":449},
{"h":1495,"NO1":476,"SE2":476,"SE3":476,"SE4":476,"FI":476,"DK1":476},
{"h":1499,"NO1":487,"SE2":487,"SE3":487,"SE4":487,"FI":487,"DK1":487},
{"h":1502,"NO1":498,"SE2":498,"SE3":498,"SE4":498,"FI":498,"DK1":498},
{"h":1505,"NO1":535,"SE2":535,"SE3":535,"SE4":535,"FI":535,"DK1":535},
{"h":1509,"NO1":465,"SE2":465,"SE3":465,"SE4":465,"FI":465,"DK1":465},
{"h":1513,"NO1":422,"SE2":422,"SE3":422,"SE4":422,"FI":422,"DK1":422},
{"h":1517,"NO1":417,"SE2":417,"SE3":417,"SE4":417,"FI":417,"DK1":417},
{"h":1520,"NO1":551,"SE2":551,"SE3":551,"SE4":551,"FI":590,"DK1":551},
{"h":1526,"NO1":546,"SE2":546,"SE3":546,"SE4":546,"FI":620,"DK1":546},
{"h":1530,"NO1":562,"SE2":562,"SE3":562,"SE4":562,"FI":637,"DK1":562},
{"h":1532,"NO1":487,"SE2":487,"SE3":487,"SE4":487,"FI":600,"DK1":487},
{"h":1536,"NO1":455,"SE2":455,"SE3":455,"SE4":455,"FI":470,"DK1":455},
{"h":1539,"NO1":422,"SE2":422,"SE3":422,"SE4":422,"FI":422,"DK1":422},
{"h":1543,"NO1":530,"SE2":530,"SE3":530,"SE4":530,"FI":530,"DK1":530},
{"h":1547,"NO1":530,"SE2":530,"SE3":530,"SE4":530,"FI":530,"DK1":530},
{"h":1551,"NO1":535,"SE2":535,"SE3":535,"SE4":535,"FI":535,"DK1":535},
{"h":1555,"NO1":530,"SE2":530,"SE3":530,"SE4":530,"FI":530,"DK1":530},
{"h":1559,"NO1":476,"SE2":476,"SE3":476,"SE4":476,"FI":476,"DK1":476},
{"h":1563,"NO1":444,"SE2":444,"SE3":444,"SE4":444,"FI":444,"DK1":444},
{"h":1566,"NO1":541,"SE2":541,"SE3":541,"SE4":541,"FI":718,"DK1":541},
{"h":1570,"NO1":541,"SE2":541,"SE3":541,"SE4":541,"FI":718,"DK1":541},
{"h":1574,"NO1":530,"SE2":530,"SE3":530,"SE4":530,"FI":700,"DK1":530},
{"h":1577,"NO1":632,"SE2":632,"SE3":632,"SE4":632,"FI":640,"DK1":632},
{"h":1580,"NO1":525,"SE2":525,"SE3":525,"SE4":525,"FI":540,"DK1":525},
{"h":1584,"NO1":487,"SE2":487,"SE3":487,"SE4":487,"FI":487,"DK1":487},
{"h":1588,"NO1":487,"SE2":487,"SE3":487,"SE4":487,"FI":487,"DK1":487},
{"h":1592,"NO1":562,"SE2":562,"SE3":562,"SE4":562,"FI":562,"DK1":562},
{"h":1594,"NO1":594,"SE2":594,"SE3":594,"SE4":594,"FI":594,"DK1":700},
{"h":1597,"NO1":551,"SE2":551,"SE3":551,"SE4":551,"FI":700,"DK1":917},
{"h":1601,"NO1":594,"SE2":594,"SE3":594,"SE4":594,"FI":594,"DK1":650},
{"h":1605,"NO1":519,"SE2":519,"SE3":519,"SE4":519,"FI":519,"DK1":519},
{"h":1610,"NO1":508,"SE2":508,"SE3":508,"SE4":508,"FI":508,"DK1":508},
{"h":1613,"NO1":508,"SE2":508,"SE3":508,"SE4":508,"FI":508,"DK1":508},
{"h":1617,"NO1":702,"SE2":520,"SE3":702,"SE4":900,"FI":702,"DK1":702},
{"h":1620,"NO1":541,"SE2":541,"SE3":541,"SE4":960,"FI":541,"DK1":541},
{"h":1622,"NO1":530,"SE2":530,"SE3":530,"SE4":700,"FI":600,"DK1":530},
{"h":1628,"NO1":530,"SE2":530,"SE3":530,"SE4":530,"FI":600,"DK1":530},
{"h":1632,"NO1":498,"SE2":498,"SE3":498,"SE4":498,"FI":487,"DK1":498},
{"h":1636,"NO1":498,"SE2":498,"SE3":498,"SE4":498,"FI":498,"DK1":498},
{"h":1642,"NO1":508,"SE2":508,"SE3":508,"SE4":508,"FI":508,"DK1":508},
{"h":1647,"NO1":519,"SE2":519,"SE3":519,"SE4":659,"FI":519,"DK1":519},
{"h":1653,"NO1":508,"SE2":508,"SE3":508,"SE4":508,"FI":508,"DK1":508},
{"h":1657,"NO1":487,"SE2":487,"SE3":487,"SE4":487,"FI":487,"DK1":487},
{"h":1661,"NO1":487,"SE2":487,"SE3":487,"SE4":487,"FI":487,"DK1":487},
{"h":1667,"NO1":519,"SE2":519,"SE3":519,"SE4":519,"FI":637,"DK1":519},
{"h":1672,"NO1":530,"SE2":530,"SE3":530,"SE4":530,"FI":530,"DK1":530},
{"h":1676,"NO1":498,"SE2":498,"SE3":498,"SE4":498,"FI":498,"DK1":498},
{"h":1682,"NO1":476,"SE2":476,"SE3":476,"SE4":476,"FI":476,"DK1":476},
{"h":1686,"NO1":825,"SE2":540,"SE3":830,"SE4":830,"FI":830,"DK1":830},
{"h":1690,"NO1":723,"SE2":540,"SE3":906,"SE4":906,"FI":906,"DK1":906},
{"h":1693,"NO1":971,"SE2":540,"SE3":960,"SE4":960,"FI":960,"DK1":960},
{"h":1697,"NO1":1080,"SE2":540,"SE3":670,"SE4":670,"FI":670,"DK1":670},
{"h":1699,"NO1":777,"SE2":540,"SE3":508,"SE4":508,"FI":508,"DK1":508},
{"h":1702,"NO1":530,"SE2":530,"SE3":530,"SE4":530,"FI":530,"DK1":530},
{"h":1705,"NO1":498,"SE2":498,"SE3":498,"SE4":498,"FI":498,"DK1":498},
{"h":1708,"NO1":530,"SE2":530,"SE3":700,"SE4":700,"FI":700,"DK1":700},
{"h":1711,"NO1":992,"SE2":560,"SE3":1000,"SE4":1000,"FI":1000,"DK1":1000},
{"h":1714,"NO1":938,"SE2":600,"SE3":992,"SE4":992,"FI":992,"DK1":992},
{"h":1716,"NO1":670,"SE2":627,"SE3":1000,"SE4":1000,"FI":1000,"DK1":1000},
{"h":1718,"NO1":863,"SE2":620,"SE3":900,"SE4":900,"FI":900,"DK1":900},
{"h":1721,"NO1":605,"SE2":560,"SE3":712,"SE4":712,"FI":712,"DK1":712},
{"h":1724,"NO1":519,"SE2":519,"SE3":519,"SE4":519,"FI":519,"DK1":519},
{"h":1728,"NO1":487,"SE2":487,"SE3":487,"SE4":487,"FI":487,"DK1":487},
{"h":1733,"NO1":476,"SE2":476,"SE3":476,"SE4":476,"FI":476,"DK1":476},
{"h":1737,"NO1":697,"SE2":697,"SE3":697,"SE4":697,"FI":697,"DK1":697},
{"h":1740,"NO1":541,"SE2":541,"SE3":541,"SE4":541,"FI":541,"DK1":541},
{"h":1744,"NO1":530,"SE2":530,"SE3":530,"SE4":530,"FI":530,"DK1":530},
{"h":1748,"NO1":530,"SE2":530,"SE3":530,"SE4":530,"FI":530,"DK1":530},
{"h":1751,"NO1":460,"SE2":460,"SE3":460,"SE4":460,"FI":460,"DK1":460},
{"h":1755,"NO1":444,"SE2":444,"SE3":444,"SE4":444,"FI":444,"DK1":444},
{"h":1759,"NO1":508,"SE2":508,"SE3":508,"SE4":508,"FI":540,"DK1":508},
{"h":1763,"NO1":508,"SE2":508,"SE3":508,"SE4":508,"FI":540,"DK1":508},
{"h":1767,"NO1":498,"SE2":498,"SE3":498,"SE4":498,"FI":520,"DK1":498},
{"h":1771,"NO1":465,"SE2":465,"SE3":465,"SE4":465,"FI":480,"DK1":465},
{"h":1775,"NO1":422,"SE2":422,"SE3":422,"SE4":422,"FI":422,"DK1":422},
{"h":1778,"NO1":433,"SE2":433,"SE3":433,"SE4":433,"FI":433,"DK1":433},
{"h":1782,"NO1":498,"SE2":498,"SE3":498,"SE4":498,"FI":498,"DK1":498},
{"h":1786,"NO1":508,"SE2":508,"SE3":508,"SE4":508,"FI":508,"DK1":508},
{"h":1794,"NO1":498,"SE2":498,"SE3":498,"SE4":498,"FI":498,"DK1":498},
{"h":1798,"NO1":455,"SE2":455,"SE3":455,"SE4":455,"FI":455,"DK1":455},
{"h":1802,"NO1":444,"SE2":444,"SE3":444,"SE4":444,"FI":444,"DK1":444},
{"h":1805,"NO1":476,"SE2":476,"SE3":476,"SE4":476,"FI":476,"DK1":476},
{"h":1809,"NO1":487,"SE2":487,"SE3":487,"SE4":487,"FI":487,"DK1":487},
{"h":1817,"NO1":503,"SE2":503,"SE3":503,"SE4":503,"FI":503,"DK1":450},
{"h":1821,"NO1":476,"SE2":476,"SE3":476,"SE4":476,"FI":476,"DK1":326},
{"h":1825,"NO1":460,"SE2":460,"SE3":460,"SE4":460,"FI":460,"DK1":250},
{"h":1829,"NO1":444,"SE2":444,"SE3":444,"SE4":444,"FI":444,"DK1":175},
{"h":1832,"NO1":476,"SE2":476,"SE3":476,"SE4":476,"FI":476,"DK1":400},
{"h":1836,"NO1":480,"SE2":480,"SE3":480,"SE4":480,"FI":480,"DK1":400},
{"h":1840,"NO1":487,"SE2":487,"SE3":487,"SE4":487,"FI":487,"DK1":330},
{"h":1846,"NO1":465,"SE2":465,"SE3":465,"SE4":465,"FI":465,"DK1":465},
{"h":1850,"NO1":422,"SE2":422,"SE3":422,"SE4":422,"FI":422,"DK1":422},
{"h":1854,"NO1":519,"SE2":519,"SE3":519,"SE4":519,"FI":557,"DK1":519},
{"h":1861,"NO1":519,"SE2":519,"SE3":519,"SE4":519,"FI":557,"DK1":519},
{"h":1865,"NO1":519,"SE2":519,"SE3":519,"SE4":519,"FI":557,"DK1":519},
{"h":1869,"NO1":465,"SE2":465,"SE3":465,"SE4":465,"FI":520,"DK1":465},
{"h":1875,"NO1":433,"SE2":433,"SE3":433,"SE4":433,"FI":552,"DK1":433},
{"h":1879,"NO1":487,"SE2":487,"SE3":487,"SE4":487,"FI":500,"DK1":487},
{"h":1882,"NO1":498,"SE2":498,"SE3":498,"SE4":498,"FI":498,"DK1":498},
{"h":1886,"NO1":481,"SE2":481,"SE3":481,"SE4":481,"FI":605,"DK1":481},
{"h":1890,"NO1":508,"SE2":508,"SE3":508,"SE4":508,"FI":605,"DK1":508},
{"h":1894,"NO1":471,"SE2":471,"SE3":471,"SE4":471,"FI":500,"DK1":471},
{"h":1898,"NO1":471,"SE2":471,"SE3":471,"SE4":471,"FI":471,"DK1":471},
{"h":1902,"NO1":503,"SE2":503,"SE3":503,"SE4":503,"FI":503,"DK1":503},
{"h":1906,"NO1":594,"SE2":594,"SE3":594,"SE4":594,"FI":650,"DK1":680},
{"h":1909,"NO1":562,"SE2":562,"SE3":562,"SE4":562,"FI":700,"DK1":562},
{"h":1911,"NO1":573,"SE2":573,"SE3":573,"SE4":573,"FI":761,"DK1":573},
{"h":1915,"NO1":530,"SE2":530,"SE3":530,"SE4":530,"FI":650,"DK1":530},
{"h":1919,"NO1":476,"SE2":476,"SE3":476,"SE4":476,"FI":476,"DK1":476},
{"h":1923,"NO1":476,"SE2":476,"SE3":476,"SE4":476,"FI":476,"DK1":476},
{"h":1928,"NO1":594,"SE2":594,"SE3":594,"SE4":594,"FI":594,"DK1":594},
{"h":1931,"NO1":562,"SE2":562,"SE3":562,"SE4":562,"FI":650,"DK1":562},
{"h":1935,"NO1":616,"SE2":616,"SE3":616,"SE4":616,"FI":723,"DK1":616},
{"h":1938,"NO1":541,"SE2":541,"SE3":541,"SE4":541,"FI":723,"DK1":541},
{"h":1942,"NO1":487,"SE2":487,"SE3":487,"SE4":487,"FI":550,"DK1":487},
{"h":1946,"NO1":449,"SE2":449,"SE3":449,"SE4":449,"FI":449,"DK1":449},
{"h":1950,"NO1":455,"SE2":455,"SE3":455,"SE4":455,"FI":455,"DK1":455},
{"h":1953,"NO1":573,"SE2":573,"SE3":573,"SE4":573,"FI":600,"DK1":573},
{"h":1956,"NO1":530,"SE2":530,"SE3":530,"SE4":530,"FI":680,"DK1":530},
{"h":1959,"NO1":498,"SE2":498,"SE3":498,"SE4":498,"FI":680,"DK1":498},
{"h":1963,"NO1":476,"SE2":476,"SE3":476,"SE4":476,"FI":560,"DK1":476},
{"h":1967,"NO1":465,"SE2":465,"SE3":465,"SE4":465,"FI":480,"DK1":465},
{"h":1971,"NO1":444,"SE2":444,"SE3":444,"SE4":444,"FI":400,"DK1":444},
{"h":1975,"NO1":438,"SE2":438,"SE3":438,"SE4":438,"FI":400,"DK1":438},
{"h":1979,"NO1":476,"SE2":476,"SE3":476,"SE4":476,"FI":470,"DK1":476},
{"h":1985,"NO1":481,"SE2":481,"SE3":481,"SE4":481,"FI":508,"DK1":481},
{"h":1988,"NO1":476,"SE2":476,"SE3":476,"SE4":476,"FI":508,"DK1":476},
{"h":1994,"NO1":455,"SE2":455,"SE3":455,"SE4":455,"FI":250,"DK1":455},
{"h":1998,"NO1":455,"SE2":455,"SE3":455,"SE4":455,"FI":470,"DK1":455},
{"h":2002,"NO1":476,"SE2":476,"SE3":476,"SE4":476,"FI":470,"DK1":400},
{"h":2006,"NO1":480,"SE2":480,"SE3":480,"SE4":480,"FI":476,"DK1":197},
{"h":2008,"NO1":481,"SE2":481,"SE3":481,"SE4":481,"FI":476,"DK1":449},
{"h":2012,"NO1":476,"SE2":476,"SE3":476,"SE4":476,"FI":470,"DK1":476},
{"h":2017,"NO1":465,"SE2":465,"SE3":465,"SE4":465,"FI":400,"DK1":465}
],
"dk2":[
{"h":0,"v":455},{"h":5,"v":800},{"h":10,"v":800},{"h":13,"v":583},{"h":16,"v":755},{"h":18,"v":960},{"h":21,"v":562},{"h":23,"v":497},{"h":27,"v":449},{"h":29,"v":449},{"h":32,"v":777},{"h":34,"v":774},{"h":38,"v":594},{"h":40,"v":627},{"h":44,"v":627},{"h":47,"v":455},{"h":50,"v":438},{"h":53,"v":476},{"h":55,"v":774},{"h":58,"v":774},{"h":60,"v":530},{"h":64,"v":583},{"h":67,"v":578},{"h":71,"v":487},{"h":73,"v":315},{"h":76,"v":336},{"h":79,"v":514},{"h":82,"v":514},{"h":85,"v":487},{"h":90,"v":824},{"h":93,"v":824},{"h":96,"v":455},{"h":98,"v":272},{"h":101,"v":272},{"h":103,"v":506},{"h":106,"v":455},{"h":109,"v":390},{"h":113,"v":449},{"h":118,"v":30},{"h":121,"v":27},{"h":125,"v":328},{"h":129,"v":326},{"h":133,"v":240},{"h":137,"v":390},{"h":140,"v":390},{"h":142,"v":326},{"h":145,"v":111},{"h":148,"v":111},{"h":150,"v":401},{"h":153,"v":457},{"h":156,"v":457},{"h":159,"v":497},{"h":162,"v":497},{"h":165,"v":455},{"h":168,"v":46},{"h":172,"v":44},{"h":175,"v":508},{"h":177,"v":508},{"h":180,"v":476},{"h":182,"v":497},{"h":185,"v":476},{"h":188,"v":497},{"h":191,"v":455},{"h":195,"v":465},{"h":198,"v":793},{"h":200,"v":777},{"h":202,"v":605},{"h":205,"v":691},{"h":207,"v":497},{"h":210,"v":716},{"h":212,"v":497},{"h":216,"v":347},{"h":220,"v":46},{"h":222,"v":44},{"h":224,"v":395},{"h":226,"v":401},{"h":229,"v":326},{"h":233,"v":401},{"h":236,"v":326},{"h":241,"v":159},{"h":245,"v":186},{"h":248,"v":449},{"h":250,"v":455},{"h":254,"v":374},
{"h":256,"v":444},{"h":260,"v":460},{"h":264,"v":283},{"h":268,"v":283},{"h":272,"v":465},{"h":283,"v":465},{"h":287,"v":449},{"h":291,"v":449},{"h":296,"v":567},{"h":298,"v":562},{"h":301,"v":288},{"h":303,"v":417},{"h":306,"v":417},{"h":312,"v":202},{"h":316,"v":202},{"h":320,"v":369},{"h":324,"v":374},{"h":328,"v":347},{"h":330,"v":766},{"h":333,"v":670},{"h":337,"v":433},{"h":339,"v":670},{"h":344,"v":876},{"h":347,"v":670},{"h":350,"v":476},{"h":353,"v":498},{"h":355,"v":777},{"h":358,"v":455},{"h":362,"v":455},{"h":368,"v":729},{"h":372,"v":288},{"h":376,"v":277},{"h":378,"v":498},{"h":381,"v":498},{"h":383,"v":3},{"h":389,"v":0},{"h":392,"v":487},{"h":397,"v":530},{"h":401,"v":492},{"h":404,"v":664},{"h":407,"v":487},{"h":410,"v":519},{"h":414,"v":836},{"h":417,"v":852},{"h":419,"v":562},{"h":424,"v":562},{"h":427,"v":917},{"h":430,"v":562},{"h":434,"v":444},{"h":437,"v":831},{"h":440,"v":820},{"h":443,"v":498},{"h":446,"v":487},{"h":449,"v":863},{"h":452,"v":852},{"h":455,"v":508},{"h":459,"v":503},{"h":464,"v":739},{"h":467,"v":734},{"h":470,"v":498},{"h":474,"v":858},{"h":477,"v":498},{"h":481,"v":487},{"h":484,"v":455},{"h":488,"v":573},{"h":491,"v":573},{"h":495,"v":492},{"h":499,"v":847},{"h":503,"v":498},{"h":507,"v":476},{"h":511,"v":863},
{"h":515,"v":530},{"h":518,"v":519},{"h":522,"v":1040},{"h":525,"v":530},{"h":528,"v":519},{"h":531,"v":412},{"h":534,"v":976},{"h":538,"v":583},{"h":541,"v":562},{"h":547,"v":1153},{"h":551,"v":519},{"h":555,"v":476},{"h":560,"v":976},{"h":564,"v":562},{"h":566,"v":540},{"h":570,"v":761},{"h":573,"v":562},{"h":577,"v":476},{"h":580,"v":326},{"h":583,"v":750},{"h":586,"v":734},{"h":589,"v":476},{"h":592,"v":530},{"h":595,"v":804},{"h":597,"v":788},{"h":601,"v":449},{"h":604,"v":455},{"h":607,"v":745},{"h":611,"v":723},{"h":614,"v":498},{"h":619,"v":820},{"h":622,"v":476},{"h":626,"v":272},{"h":629,"v":283},{"h":632,"v":412},{"h":635,"v":390},{"h":638,"v":331},{"h":642,"v":422},{"h":644,"v":412},{"h":647,"v":46},{"h":653,"v":35},{"h":656,"v":283},{"h":659,"v":283},{"h":662,"v":143},{"h":665,"v":390},{"h":669,"v":390},{"h":673,"v":25},{"h":676,"v":283},{"h":679,"v":825},{"h":683,"v":508},{"h":686,"v":540},{"h":691,"v":1115},{"h":694,"v":540},{"h":698,"v":530},{"h":700,"v":987},{"h":703,"v":723},{"h":707,"v":723},{"h":711,"v":562},{"h":715,"v":1094},{"h":718,"v":712},{"h":721,"v":508},{"h":725,"v":562},{"h":728,"v":927},{"h":731,"v":927},{"h":734,"v":616},{"h":737,"v":605},{"h":739,"v":1164},{"h":743,"v":594},{"h":746,"v":498},{"h":750,"v":831},{"h":753,"v":831},{"h":757,"v":562},{"h":760,"v":863},
{"h":765,"v":530},{"h":768,"v":476},{"h":772,"v":519},{"h":775,"v":868},{"h":778,"v":863},{"h":781,"v":627},{"h":783,"v":863},{"h":786,"v":777},{"h":790,"v":476},{"h":794,"v":433},{"h":798,"v":433},{"h":802,"v":670},{"h":804,"v":670},{"h":807,"v":498},{"h":810,"v":782},{"h":813,"v":594},{"h":817,"v":508},{"h":821,"v":444},{"h":825,"v":540},{"h":829,"v":540},{"h":831,"v":455},{"h":834,"v":680},{"h":837,"v":680},{"h":840,"v":433},{"h":843,"v":240},{"h":847,"v":449},{"h":850,"v":600},{"h":853,"v":433},{"h":858,"v":691},{"h":861,"v":455},{"h":864,"v":390},{"h":867,"v":127},{"h":870,"v":412},{"h":875,"v":455},{"h":879,"v":422},{"h":881,"v":293},{"h":885,"v":293},{"h":888,"v":46},{"h":891,"v":0},{"h":894,"v":240},{"h":896,"v":540},{"h":899,"v":540},{"h":902,"v":401},{"h":906,"v":675},{"h":908,"v":670},{"h":911,"v":433},{"h":915,"v":267},{"h":918,"v":347},{"h":922,"v":455},{"h":927,"v":627},{"h":931,"v":616},{"h":935,"v":455},{"h":938,"v":487},{"h":944,"v":836},{"h":947,"v":820},{"h":950,"v":498},{"h":955,"v":739},{"h":958,"v":455},{"h":961,"v":256},{"h":965,"v":256},{"h":968,"v":465},{"h":973,"v":476},{"h":979,"v":723},{"h":982,"v":455},{"h":985,"v":422},{"h":990,"v":498},{"h":993,"v":455},{"h":996,"v":433},{"h":1000,"v":498},{"h":1004,"v":422},{"h":1008,"v":240},{"h":1012,"v":245},{"h":1015,"v":670},
{"h":1017,"v":560},{"h":1020,"v":476},{"h":1022,"v":573},{"h":1025,"v":455},{"h":1029,"v":240},{"h":1033,"v":197},{"h":1037,"v":207},{"h":1040,"v":476},{"h":1043,"v":315},{"h":1046,"v":315},{"h":1048,"v":476},{"h":1052,"v":455},{"h":1056,"v":229},{"h":1059,"v":400},{"h":1062,"v":412},{"h":1066,"v":455},{"h":1069,"v":476},{"h":1073,"v":858},{"h":1076,"v":487},{"h":1081,"v":422},{"h":1085,"v":422},{"h":1089,"v":476},{"h":1093,"v":514},{"h":1096,"v":680},{"h":1099,"v":675},{"h":1102,"v":444},{"h":1106,"v":422},{"h":1112,"v":621},{"h":1115,"v":508},{"h":1118,"v":476},{"h":1121,"v":508},{"h":1124,"v":498},{"h":1129,"v":465},{"h":1133,"v":444},{"h":1136,"v":670},{"h":1139,"v":540},{"h":1145,"v":718},{"h":1147,"v":476},{"h":1152,"v":444},{"h":1158,"v":433},{"h":1164,"v":476},{"h":1170,"v":697},{"h":1173,"v":455},{"h":1177,"v":433},{"h":1181,"v":712},{"h":1185,"v":723},{"h":1189,"v":476},{"h":1193,"v":723},{"h":1196,"v":455},{"h":1200,"v":444},{"h":1206,"v":723},{"h":1210,"v":712},{"h":1213,"v":455},{"h":1215,"v":772},{"h":1218,"v":766},{"h":1222,"v":455},{"h":1226,"v":433},{"h":1231,"v":664},{"h":1233,"v":659},{"h":1236,"v":508},{"h":1241,"v":734},{"h":1245,"v":562},{"h":1247,"v":476},{"h":1252,"v":465},{"h":1255,"v":712},{"h":1258,"v":707},{"h":1262,"v":498},{"h":1265,"v":954},{"h":1268,"v":487},{"h":1272,"v":476},
{"h":1274,"v":476},{"h":1278,"v":487},{"h":1280,"v":745},{"h":1283,"v":497},{"h":1285,"v":519},{"h":1289,"v":712},{"h":1292,"v":497},{"h":1295,"v":497},{"h":1299,"v":400},{"h":1303,"v":395},{"h":1306,"v":455},{"h":1312,"v":465},{"h":1316,"v":422},{"h":1322,"v":315},{"h":1326,"v":347},{"h":1330,"v":422},{"h":1337,"v":471},{"h":1341,"v":412},{"h":1345,"v":412},{"h":1350,"v":707},{"h":1354,"v":530},{"h":1358,"v":691},{"h":1362,"v":562},{"h":1367,"v":433},{"h":1372,"v":498},{"h":1376,"v":616},{"h":1380,"v":508},{"h":1385,"v":616},{"h":1389,"v":476},{"h":1393,"v":455},{"h":1399,"v":723},{"h":1402,"v":648},{"h":1405,"v":712},{"h":1409,"v":831},{"h":1412,"v":498},{"h":1416,"v":455},{"h":1424,"v":761},{"h":1428,"v":670},{"h":1431,"v":680},{"h":1434,"v":815},{"h":1437,"v":498},{"h":1441,"v":476},{"h":1447,"v":718},{"h":1450,"v":605},{"h":1454,"v":707},{"h":1457,"v":498},{"h":1463,"v":476},{"h":1466,"v":412},{"h":1472,"v":476},{"h":1478,"v":498},{"h":1482,"v":621},{"h":1485,"v":605},{"h":1489,"v":455},{"h":1493,"v":444},{"h":1497,"v":487},{"h":1503,"v":498},{"h":1509,"v":455},{"h":1515,"v":422},{"h":1520,"v":562},{"h":1524,"v":551},{"h":1528,"v":573},
{"h":1532,"v":455},{"h":1536,"v":261},{"h":1539,"v":315},{"h":1541,"v":530},{"h":1545,"v":530},{"h":1549,"v":508},{"h":1553,"v":600},{"h":1556,"v":530},{"h":1561,"v":444},{"h":1565,"v":444},{"h":1568,"v":594},{"h":1572,"v":562},{"h":1576,"v":712},{"h":1579,"v":670},{"h":1582,"v":508},{"h":1586,"v":487},{"h":1590,"v":831},{"h":1592,"v":885},{"h":1593,"v":933},{"h":1596,"v":960},{"h":1598,"v":971},{"h":1601,"v":1325},{"h":1603,"v":777},{"h":1606,"v":530},{"h":1609,"v":530},{"h":1613,"v":508},{"h":1616,"v":1094},{"h":1619,"v":992},{"h":1621,"v":971},{"h":1624,"v":1126},{"h":1627,"v":885},{"h":1630,"v":530},{"h":1633,"v":648},{"h":1636,"v":508},{"h":1640,"v":755},{"h":1643,"v":755},{"h":1645,"v":670},{"h":1649,"v":766},{"h":1652,"v":745},{"h":1655,"v":530},{"h":1659,"v":487},{"h":1663,"v":498},{"h":1667,"v":637},{"h":1670,"v":637},{"h":1672,"v":508},{"h":1674,"v":697},{"h":1676,"v":498},{"h":1684,"v":498},{"h":1687,"v":852},{"h":1690,"v":906},{"h":1694,"v":971},{"h":1697,"v":670},{"h":1699,"v":508},{"h":1704,"v":498},{"h":1709,"v":1030},{"h":1713,"v":992},{"h":1717,"v":1013},{"h":1719,"v":885},{"h":1721,"v":712},{"h":1724,"v":562},{"h":1730,"v":476},{"h":1734,"v":627},{"h":1737,"v":718},{"h":1740,"v":605},{"h":1746,"v":627},{"h":1748,"v":508},{"h":1751,"v":401},{"h":1755,"v":353},{"h":1757,"v":455},{"h":1761,"v":508},{"h":1767,"v":530},{"h":1771,"v":476},{"h":1775,"v":363},{"h":1778,"v":379},{"h":1782,"v":487},
{"h":1788,"v":487},{"h":1792,"v":627},{"h":1795,"v":508},{"h":1798,"v":455},{"h":1802,"v":428},{"h":1805,"v":449},{"h":1811,"v":498},{"h":1815,"v":498},{"h":1818,"v":589},{"h":1821,"v":261},{"h":1825,"v":240},{"h":1829,"v":213},{"h":1832,"v":476},{"h":1836,"v":476},{"h":1842,"v":465},{"h":1847,"v":288},{"h":1852,"v":455},{"h":1856,"v":530},{"h":1859,"v":508},{"h":1865,"v":487},{"h":1871,"v":304},{"h":1876,"v":288},{"h":1879,"v":465},{"h":1884,"v":498},{"h":1890,"v":487},{"h":1896,"v":476},{"h":1902,"v":712},{"h":1906,"v":707},{"h":1909,"v":691},{"h":1915,"v":616},{"h":1919,"v":417},{"h":1923,"v":433},{"h":1927,"v":680},{"h":1931,"v":686},{"h":1935,"v":627},{"h":1938,"v":487},{"h":1944,"v":331},{"h":1948,"v":347},{"h":1952,"v":627},{"h":1956,"v":562},{"h":1960,"v":498},{"h":1963,"v":476},{"h":1967,"v":240},{"h":1971,"v":0},{"h":1975,"v":3},{"h":1979,"v":369},{"h":1983,"v":111},{"h":1986,"v":476},{"h":1988,"v":3},{"h":1991,"v":78},{"h":1994,"v":-61},{"h":1998,"v":476},{"h":2002,"v":455},{"h":2006,"v":347},{"h":2010,"v":476},{"h":2014,"v":41},{"h":2017,"v":197}
]
},
"encoding":{
"x":{"field":"h","type":"quantitative","title":null,"scale":{"domain":[0,2036],"nice":false,"zero":false},
"axis":{"values":[0,240,480,720,960,1200,1440,1680,1920],"labelExpr":"['18-09-17','18-09-27','18-10-07','18-10-17','18-10-27','18-11-06','18-11-16','18-11-26','18-12-06'][round(datum.value/240)]","grid":true,"gridColor":"#d9d9d9","gridWidth":1.5,"domain":false,"ticks":false,"labelPadding":15,"labelFontSize":21,"labelFlush":false,"labelOverlap":false,"title":null}}
},
"layer":[
{"data":{"name":"nordic"},"mark":{"type":"line"},
"encoding":{"y":{"field":"SE2","type":"quantitative","title":null,"scale":{"domain":[-200,1400],"nice":false,"zero":false},
"axis":{"values":[-200,0,200,400,600,800,1000,1200,1400],"labelExpr":"datum.value + ''","grid":true,"gridColor":"#a6a6a6","gridWidth":1.5,"domain":true,"domainColor":"#a6a6a6","domainWidth":1.5,"ticks":true,"tickSize":6,"tickColor":"#a6a6a6","tickWidth":1.5,"labelPadding":14,"labelFontSize":20,"labelFlush":false,"title":null}},
"color":{"datum":"Pris SE2","type":"nominal","scale":{"domain":["Pris SE2","Pris SE3","Pris SE4","Pris FI","Pris DK1","Pris DK2","Pris NO1"],"range":["#00ff00","#0000ff","#ffff00","#ff00ff","#00ffff","#800000","#008000"]},
"legend":{"title":null,"orient":"none","legendX":297,"legendY":898,"direction":"horizontal","columns":7,"symbolType":"stroke","symbolSize":3025,"symbolStrokeWidth":5,"labelFontSize":21,"labelOffset":1,"columnPadding":28,"labelColor":"#333333","labelFont":"Liberation Sans"}}}},
{"data":{"name":"nordic"},"mark":{"type":"line"},"encoding":{"y":{"field":"SE3","type":"quantitative","title":null},"color":{"datum":"Pris SE3","type":"nominal"}}},
{"data":{"name":"nordic"},"mark":{"type":"line"},"encoding":{"y":{"field":"SE4","type":"quantitative","title":null},"color":{"datum":"Pris SE4","type":"nominal"}}},
{"data":{"name":"nordic"},"mark":{"type":"line"},"encoding":{"y":{"field":"FI","type":"quantitative","title":null},"color":{"datum":"Pris FI","type":"nominal"}}},
{"data":{"name":"nordic"},"mark":{"type":"line"},"encoding":{"y":{"field":"DK1","type":"quantitative","title":null},"color":{"datum":"Pris DK1","type":"nominal"}}},
{"data":{"name":"dk2"},"mark":{"type":"line"},"encoding":{"y":{"field":"v","type":"quantitative","title":null},"color":{"datum":"Pris DK2","type":"nominal"}}},
{"data":{"name":"nordic"},"mark":{"type":"line"},"encoding":{"y":{"field":"NO1","type":"quantitative","title":null},"color":{"datum":"Pris NO1","type":"nominal"}}}
]
}
